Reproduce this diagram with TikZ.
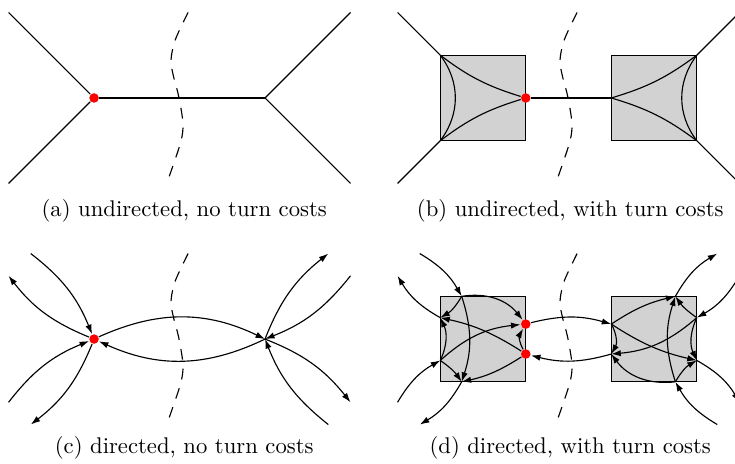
\documentclass[tikz,border=0pt]{standalone}
\usepackage{tikz}
\usetikzlibrary{arrows.meta}

\begin{document}
\begin{tikzpicture}[x=37.7pt,y=37.7pt,line width=0.5pt,>={Latex[length=4.2pt,width=2.8pt]},
  vtx/.style={circle,fill=red,inner sep=0pt,minimum size=4.2pt},
  cell/.style={draw,fill=gray!35,minimum size=37.7pt,inner sep=0pt,outer sep=0pt},
  cut/.style={dash pattern=on 4.8pt off 4pt},
  subcap/.style={anchor=base}]
  \useasboundingbox (-1.1,1.146) rectangle (7.497,-4.281);
  % (a) undirected, no turn costs
  \begin{scope}
    \node[vtx] (a1) at (0,0) {}; \coordinate (a2) at (2,0);
    \coordinate (ap) at (-1,1); \coordinate (aq) at (-1,-1); \coordinate (ar) at (3,1); \coordinate (as) at (3,-1);
    \draw (ap)--(a1); \draw (aq)--(a1); \draw (a1)--(a2); \draw (a2)--(ar); \draw (a2)--(as);
    \draw[cut] plot[smooth] coordinates {(1.1,1) (0.95,0.68) (0.9,0.44) (0.93,0.25) (0.99,0.02) (1.04,-0.3) (1.01,-0.53) (0.85,-1)};
    \node[subcap] (capa) at (1.055,-1.386) {(a) undirected, no turn costs};
  \end{scope}
  % (b) undirected, with turn costs
  \begin{scope}[shift={(4.55,0)}]
    \node[cell] (bl) at (0,0) {}; \node[cell] (br) at (2,0) {};
    \node[vtx] (b1) at (bl.east) {};
    \coordinate (bp) at (-1,1); \coordinate (bq) at (-1,-1); \coordinate (br1) at (3,1); \coordinate (bs) at (3,-1);
    \draw (bp)--(bl.north west); \draw (bq)--(bl.south west); \draw (br.north east)--(br1); \draw (br.south east)--(bs);
    \draw (b1)--(br.west);
    \draw (bl.north west) to[bend right=10] (b1); \draw (bl.south west) to[bend left=10] (b1); \draw (bl.north west) to[bend left=37] (bl.south west);
    \draw (br.north east) to[bend left=10] (br.west); \draw (br.south east) to[bend right=10] (br.west); \draw (br.north east) to[bend right=37] (br.south east);
    \draw[cut] plot[smooth] coordinates {(1.1,1) (0.95,0.68) (0.9,0.44) (0.93,0.25) (0.99,0.02) (1.04,-0.3) (1.01,-0.53) (0.85,-1)};
    \node[subcap] (capb) at (1.02,-1.386) {(b) undirected, with turn costs};
  \end{scope}
  % (c) directed, no turn costs
  \begin{scope}[shift={(0,-2.82)}]
    \node[vtx] (c1) at (0,0) {}; \coordinate (c2) at (2,0);
    \coordinate (ca) at (-0.74,1); \coordinate (cb) at (-1,0.74); \coordinate (cc) at (-1,-0.74); \coordinate (cd) at (-0.74,-1);
    \coordinate (ce) at (2.74,1); \coordinate (cf) at (3,0.74); \coordinate (cg) at (3,-0.74); \coordinate (ch) at (2.74,-1);
    \draw[->] (ca) to[bend left=15] (c1); \draw[->] (c1) to[bend left=15] (cb);
    \draw[->] (cc) to[bend left=15] (c1); \draw[->] (c1) to[bend left=15] (cd);
    \draw[->] (c2) to[bend left=15] (ce); \draw[->] (cf) to[bend left=15] (c2);
    \draw[->] (c2) to[bend left=15] (cg); \draw[->] (ch) to[bend left=15] (c2);
    \draw[->] (c1) to[bend left=25] (c2); \draw[->] (c2) to[bend left=25] (c1);
    \draw[cut] plot[smooth] coordinates {(1.1,1) (0.95,0.68) (0.9,0.44) (0.93,0.25) (0.99,0.02) (1.04,-0.3) (1.01,-0.53) (0.85,-1)};
    \node[subcap] (capc) at (1.055,-1.344) {(c) directed, no turn costs};
  \end{scope}
  % (d) directed, with turn costs
  \begin{scope}[shift={(4.55,-2.82)}]
    \node[cell] (dl) at (0,0) {}; \node[cell] (dr) at (2,0) {};
    \node[vtx] (d1) at (0.5,0.175) {}; \node[vtx] (d2) at (0.5,-0.175) {};
    \coordinate (dT) at (-0.25,0.5); \coordinate (dL1) at (-0.5,0.25); \coordinate (dL2) at (-0.5,-0.25); \coordinate (dB) at (-0.25,-0.5);
    \coordinate (eL1) at (1.5,0.175); \coordinate (eL2) at (1.5,-0.175);
    \coordinate (eT) at (2.25,0.5); \coordinate (eR1) at (2.5,0.25); \coordinate (eR2) at (2.5,-0.25); \coordinate (eB) at (2.25,-0.5);
    \coordinate (xa) at (-0.74,1); \coordinate (xb) at (-1,0.74); \coordinate (xc) at (-1,-0.74); \coordinate (xd) at (-0.74,-1);
    \coordinate (xe) at (2.74,1); \coordinate (xf) at (3,0.74); \coordinate (xg) at (3,-0.74); \coordinate (xh) at (2.74,-1);
    % edges into and out of the cells
    \draw[->] (xa) to[bend left=15] (dT); \draw[->] (dL1) to[bend left=15] (xb);
    \draw[->] (xc) to[bend left=15] (dL2); \draw[->] (dB) to[bend left=15] (xd);
    \draw[->] (eT) to[bend left=15] (xe); \draw[->] (xf) to[bend left=15] (eR1);
    \draw[->] (eR2) to[bend left=15] (xg); \draw[->] (xh) to[bend left=15] (eB);
    \draw[->] (d1) to[bend left=15] (eL1); \draw[->] (eL2) to[bend left=15] (d2);
    % turns in the left cell
    \draw[->] (dT) to[bend left=30] (d1); \draw[->] (dT) to[bend left=15] (dL1); \draw[->] (dT) to[bend left=18] (dB);
    \draw[->] (dL2) to[bend right=25] (dL1); \draw[->] (dL2) to[bend left=18] (d1); \draw[->] (dL2) to[bend left=10] (dB);
    \draw[->] (d2) to[bend right=10] (dL1); \draw[->] (d2) to[bend left=10] (dB); \draw[->] (d2) to[bend left=30] (d1);
    % turns in the right cell
    \draw[->] (eB) to[bend left=30] (eL2); \draw[->] (eB) to[bend left=15] (eR2); \draw[->] (eB) to[bend left=18] (eT);
    \draw[->] (eR1) to[bend right=25] (eR2); \draw[->] (eR1) to[bend left=18] (eL2); \draw[->] (eR1) to[bend left=10] (eT);
    \draw[->] (eL1) to[bend right=10] (eR2); \draw[->] (eL1) to[bend left=10] (eT); \draw[->] (eL1) to[bend left=30] (eL2);
    \draw[cut] plot[smooth] coordinates {(1.1,1) (0.95,0.68) (0.9,0.44) (0.93,0.25) (0.99,0.02) (1.04,-0.3) (1.01,-0.53) (0.85,-1)};
    \node[subcap] (capd) at (1.02,-1.344) {(d) directed, with turn costs};
  \end{scope}
\end{tikzpicture}
\end{document}
